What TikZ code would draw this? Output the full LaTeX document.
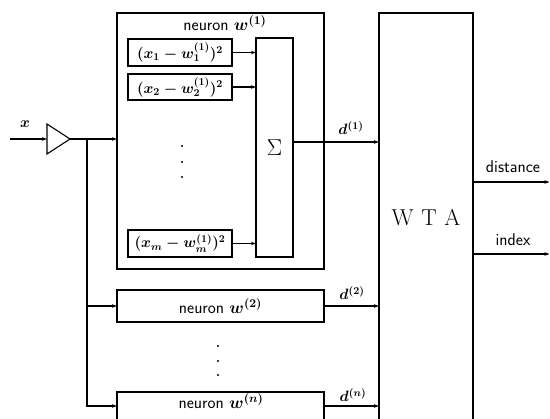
\RequirePackage{fix-cm}
\documentclass[tikz,border=0pt]{standalone}
\usetikzlibrary{arrows.meta,calc}
\begin{document}
\begin{tikzpicture}[x=1pt,y=-1pt,line width=1.1pt,
  box/.style={draw,inner sep=0pt,outer sep=0pt,anchor=north west},
  arr/.style={-{Stealth[length=5pt,width=3.5pt]}},
  lbl/.style={font=\fontsize{17}{19}\selectfont\sffamily\boldmath,inner sep=0pt},
  mth/.style={font=\fontsize{15}{17}\selectfont\boldmath,inner sep=0pt},
  dot/.style={circle,fill,inner sep=0pt,minimum size=2.2pt}]
\useasboundingbox (0,0) rectangle (550,419);
% neuron 1
\node[box,minimum width=207pt,minimum height=256pt] (n1) at (117,13) {};
\node[lbl] (t1) at (225,23) {neuron $w^{(1)}$};
\node[box,mth,minimum width=104pt,minimum height=27pt] (b1) at (128,39) {$(x_1-w_1^{(1)})^2$};
\node[box,mth,minimum width=104pt,minimum height=26pt] (b2) at (128,74) {$(x_2-w_2^{(1)})^2$};
\node[box,mth,minimum width=104pt,minimum height=27pt] (bm) at (128,230) {$(x_m-w_m^{(1)})^2$};
\node[box,minimum width=37pt,minimum height=219pt,font=\fontsize{23}{25}\selectfont] (sig) at (256,38) {$\Sigma$};
\node[dot] (v1) at (182,146) {};
\node[dot] (v2) at (182,162) {};
\node[dot] (v3) at (182,177) {};
% other neurons
\node[box,lbl,minimum width=207pt,minimum height=32pt] (n2) at (117,290) {neuron $w^{(2)}$};
\node[box,minimum width=207pt,minimum height=28pt] (nn) at (117,392) {};
\node[lbl] (tn) at (221,401) {neuron $w^{(n)}$};
\node[dot] (u1) at (218,346) {};
\node[dot] (u2) at (218,361) {};
\node[dot] (u3) at (218,375) {};
% WTA
\node[box,minimum width=94pt,minimum height=408pt] (wta) at (379,13) {};
\node[font=\fontsize{23}{25}\selectfont,inner sep=0pt] (wt) at (426,218) {W\,\,T\,\,A};
% input
\coordinate (xin) at (10,139);
\coordinate (bufin) at (47,139);
\coordinate (bufout) at (70,139);
\coordinate (bus) at (87,139);
\draw (47,124) -- (bufout) -- (47,154) -- cycle;
\node[mth] (xl) at (25,124) {$x$};
\draw[arr] (xin) -- (bufin);
\draw[arr] (bufout) -- (bufout -| n1.west);
\draw[arr] (bus) |- (nn.west);
\draw[arr] (bus |- n2.west) -- (n2.west);
% inner arrows
\draw[arr] (b1.east) -- (b1.east -| sig.west);
\draw[arr] (b2.east) -- (b2.east -| sig.west);
\draw[arr] (bm.east) -- (bm.east -| sig.west);
% outputs d
\coordinate (o1) at (293,142);
\draw[arr] (o1) -- (o1 -| wta.west);
\draw[arr] (n2.east) -- (n2.east -| wta.west);
\draw[arr] (nn.east) -- (nn.east -| wta.west);
\node[mth] (d1) at (351,128) {$d^{(1)}$};
\node[mth] (d2) at (352,293) {$d^{(2)}$};
\node[mth] (dn) at (353,395) {$d^{(n)}$};
% WTA outputs
\coordinate (dist) at (549.5,182);
\coordinate (idx) at (549.5,254);
\draw[arr] (wta.east |- dist) -- (dist);
\draw[arr] (wta.east |- idx) -- (idx);
\node[lbl] (dl) at (513,167) {distance};
\node[lbl] (il) at (513,240) {index};
\end{tikzpicture}
\end{document}
